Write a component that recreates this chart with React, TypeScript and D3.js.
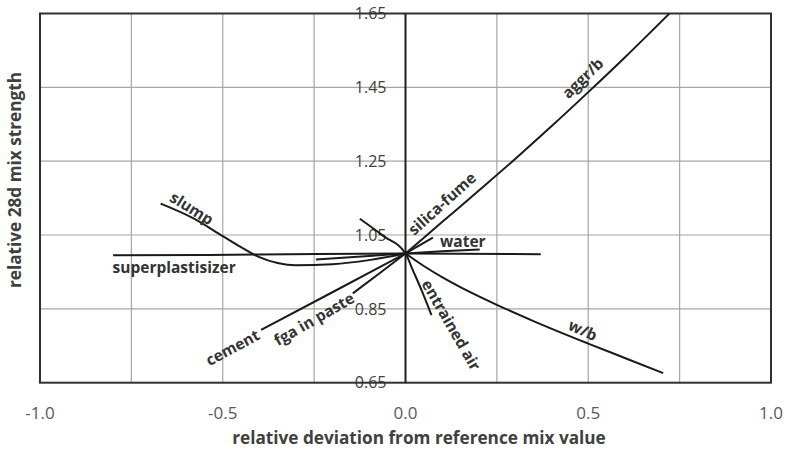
import React, { useRef, useEffect } from 'react';
import * as d3 from 'd3';

type Pt = [number, number];

// series: [relative deviation, relative strength]
const superplastisizer: Pt[] = [[-0.8, 0.995], [-0.4, 0.997], [0, 1.0], [0.37, 0.998]];
const slump: Pt[] = [[-0.67, 1.135], [-0.58, 1.095], [-0.5, 1.047], [-0.45, 1.017], [-0.4, 0.99], [-0.35, 0.974], [-0.3, 0.968], [-0.2, 0.971], [-0.1, 0.982], [0, 1.0]];
const water: Pt[] = [[-0.245, 0.984], [-0.1, 0.993], [0, 1.0], [0.1, 1.006], [0.203, 1.011]];
const silicaFume: Pt[] = [[0, 1.0], [0.075, 1.043]];
const aggrB: Pt[] = [[0, 1.0], [0.1, 1.085], [0.2, 1.17], [0.3, 1.256], [0.4, 1.345], [0.5, 1.437], [0.6, 1.531], [0.722, 1.65]];
const entrainedAir: Pt[] = [[-0.125, 1.094], [-0.06, 1.047], [0, 1.0], [0.02, 0.955], [0.045, 0.898], [0.071, 0.833]];
const cement: Pt[] = [[-0.395, 0.793], [-0.2, 0.895], [0, 1.0]];
const fgaInPaste: Pt[] = [[-0.144, 0.892], [-0.07, 0.947], [0, 1.0]];
const wb: Pt[] = [[0, 1.0], [0.05, 0.966], [0.1, 0.936], [0.15, 0.909], [0.25, 0.861], [0.35, 0.817], [0.5, 0.756], [0.6, 0.717], [0.705, 0.676]];

const allSeries: Pt[][] = [superplastisizer, slump, water, silicaFume, aggrB, entrainedAir, cement, fgaInPaste, wb];

// label text, anchor in data units, rotation
const labelText = ['aggr/b', 'silica-fume', 'water', 'slump', 'superplastisizer', 'cement', 'fga in paste', 'entrained air', 'w/b'];
const labelX = [0.485, 0.1, 0.157, -0.585, -0.633, -0.473, -0.25, 0.125, 0.485];
const labelY = [1.475, 1.135, 1.031, 1.122, 0.963, 0.745, 0.822, 0.806, 0.792];
const labelAngle = [-44, -42, 0, 32, 0, -28, -30, 60, 25];

const xTicks = [-1.0, -0.5, 0.0, 0.5, 1.0];
const xGrid = [-0.75, -0.5, -0.25, 0.25, 0.5, 0.75];
const yTicks = [0.65, 0.85, 1.05, 1.25, 1.45, 1.65];

const W = 787, H = 451;

export default function App() {
  const ref = useRef<SVGSVGElement>(null);

  useEffect(() => {
    const svg = d3.select(ref.current);
    svg.selectAll('*').remove();

    const x = d3.scaleLinear().domain([-1, 1]).range([40, 771]);
    const y = d3.scaleLinear().domain([0.65, 1.65]).range([382.7, 13.5]);
    const font = '"Open Sans", sans-serif';

    // grid
    svg.append('g').selectAll('line.v').data(xGrid).enter().append('line')
      .attr('x1', d => x(d)).attr('x2', d => x(d))
      .attr('y1', y(0.65)).attr('y2', y(1.65))
      .attr('stroke', '#a6a6a6').attr('stroke-width', 1.2);
    svg.append('g').selectAll('line.h').data(yTicks.slice(1, -1)).enter().append('line')
      .attr('x1', x(-1)).attr('x2', x(1))
      .attr('y1', d => y(d)).attr('y2', d => y(d))
      .attr('stroke', '#a6a6a6').attr('stroke-width', 1.2);

    // y tick labels sit next to the zero line
    svg.append('g').selectAll('text').data(yTicks).enter().append('text')
      .attr('x', x(0) - 19).attr('y', d => y(d)).attr('dy', '0.36em')
      .attr('text-anchor', 'end').attr('font-family', font).attr('font-size', 16)
      .attr('fill', '#404040').text(d => d.toFixed(2));

    // plot border and zero axis
    svg.append('rect')
      .attr('x', x(-1)).attr('y', y(1.65))
      .attr('width', x(1) - x(-1)).attr('height', y(0.65) - y(1.65))
      .attr('fill', 'none').attr('stroke', '#303030').attr('stroke-width', 2);
    svg.append('line')
      .attr('x1', x(0)).attr('x2', x(0)).attr('y1', y(0.65)).attr('y2', y(1.65))
      .attr('stroke', '#202020').attr('stroke-width', 2);

    // curves
    const line = d3.line<Pt>().x(d => x(d[0])).y(d => y(d[1])).curve(d3.curveMonotoneX);
    svg.append('g').selectAll('path').data(allSeries).enter().append('path')
      .attr('d', d => line(d))
      .attr('fill', 'none').attr('stroke', '#1a1a1a').attr('stroke-width', 2);

    // curve labels
    svg.append('g').selectAll('text').data(labelText).enter().append('text')
      .attr('transform', (d, i) => `translate(${x(labelX[i])},${y(labelY[i])}) rotate(${labelAngle[i]})`)
      .attr('text-anchor', 'middle').attr('dy', '0.35em')
      .attr('font-family', font).attr('font-size', 15.5).attr('font-weight', 'bold')
      .attr('fill', '#333').text(d => d);

    // x tick labels
    svg.append('g').selectAll('text').data(xTicks).enter().append('text')
      .attr('x', d => x(d)).attr('y', 413).attr('dy', '0.36em')
      .attr('text-anchor', 'middle').attr('font-family', font).attr('font-size', 17)
      .attr('fill', '#595959').text(d => d.toFixed(1));

    // axis titles
    svg.append('text')
      .attr('x', 419).attr('y', 438).attr('dy', '0.35em').attr('text-anchor', 'middle')
      .attr('font-family', font).attr('font-size', 17.2).attr('font-weight', 'bold')
      .attr('fill', '#404040').text('relative deviation from reference mix value');
    svg.append('text')
      .attr('transform', 'translate(15,180) rotate(-90)')
      .attr('dy', '0.35em').attr('text-anchor', 'middle')
      .attr('font-family', font).attr('font-size', 17.2).attr('font-weight', 'bold')
      .attr('fill', '#404040').text('relative 28d mix strength');
  }, []);

  return (
    <svg ref={ref} width={W} height={H}
      style={{ position: 'absolute', left: 0, top: 0, background: '#fff' }} />
  );
}
